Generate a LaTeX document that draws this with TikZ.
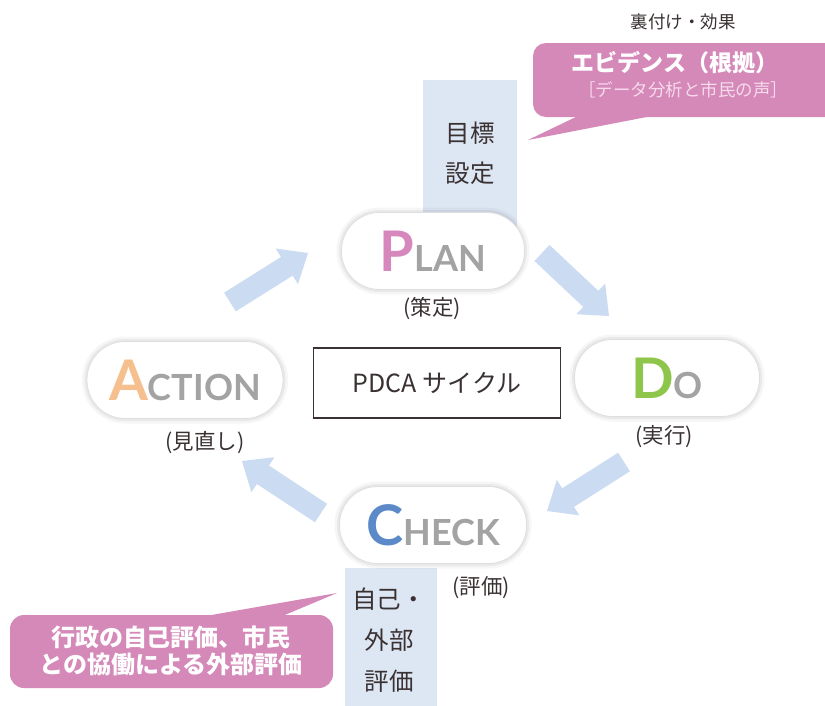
\documentclass[tikz,border=0pt]{standalone}
\usepackage{fontspec}
\setmainfont{Noto Sans CJK JP}
\newfontfamily\latfont{Lato}
\usetikzlibrary{calc}

\definecolor{calloutpink}{RGB}{213,137,185}
\definecolor{ppink}{RGB}{214,135,188}
\definecolor{aorange}{RGB}{245,192,142}
\definecolor{dgreen}{RGB}{141,198,75}
\definecolor{cblue}{RGB}{92,138,200}
\definecolor{lgray}{RGB}{163,163,163}
\definecolor{dtext}{RGB}{58,50,50}
\definecolor{arrowblue}{RGB}{202,219,242}
\definecolor{rectblue}{RGB}{221,230,243}
\definecolor{softpink}{RGB}{246,218,236}

\newcommand\pdcaword[3]{{\latfont\bfseries\fontsize{56}{56}\selectfont\textcolor{#1}{#2}\fontsize{36}{36}\selectfont\textcolor{lgray}{#3}}}

\begin{document}
\begin{tikzpicture}[x=1pt,y=-1pt,
  pill/.style={rectangle, rounded corners=38pt, fill=white, draw=black!13, line width=0.8pt,
    minimum width=#1, minimum height=77pt, inner sep=0pt,
    preaction={draw=black, draw opacity=0.035, line width=10pt},
    preaction={draw=black, draw opacity=0.05, line width=5pt}},
  sublabel/.style={text=dtext, font=\fontsize{21.5}{21.5}\selectfont, inner sep=0pt},
  bluetext/.style={text=dtext, align=center, inner sep=0pt},
  whitebold/.style={text=white, font=\bfseries, align=center, inner sep=0pt}]
\useasboundingbox (0,0) rectangle (825,705);
\clip (0,0) rectangle (825,705);
\fill[white] (0,0) rectangle (825,705);

% light blue bands
\fill[rectblue] (423,80) rectangle (517,240);
\fill[rectblue] (345,568) rectangle (437,710);

% top-right callout
\coordinate (evtip) at (528,140);
\fill[calloutpink, rounded corners=13pt] (533,43) rectangle (845,117);
\fill[calloutpink] (580,115) -- (evtip) -- (657,115) -- cycle;
\node[whitebold, font=\bfseries\fontsize{23}{23}\selectfont] (ev) at (675,63) {エビデンス（根拠）};
\node[inner sep=0pt, text=softpink, font=\fontsize{17.5}{17.5}\selectfont] (evsub) at (683,90) {［データ分析と市民の声］};
\node[inner sep=0pt, text=dtext, font=\fontsize{17.5}{17.5}\selectfont] (ura) at (683,22) {裏付け・効果};

% bottom-left callout
\coordinate (evaltip) at (337,593);
\fill[calloutpink, rounded corners=14pt] (10,615) rectangle (333,688);
\fill[calloutpink] (200,617) -- (evaltip) -- (280,617) -- cycle;
\node[whitebold, font=\bfseries\fontsize{24}{27}\selectfont] (evaltext) at (171,651) {行政の自己評価、市民\\との協働による外部評価};

% texts in the blue bands
\node[bluetext, font=\fontsize{24.5}{40}\selectfont] (goal) at (470,153) {目標\\設定};
\node[bluetext, font=\fontsize{24.5}{41}\selectfont] (selfeval) at (389,640) {自己・\\外部\\評価};

% centre box
\node[draw=dtext, line width=1.3pt, minimum width=247pt, minimum height=70pt, inner sep=0pt,
      text=dtext, font=\fontsize{25}{25}\selectfont] (cycle) at (437,383) {PDCA サイクル};

% block arrows
\coordinate (a1s) at (230,302); \coordinate (a1e) at (308,253);
\coordinate (a2s) at (542,253); \coordinate (a2e) at (609,316);
\coordinate (a3s) at (624,462); \coordinate (a3e) at (547,511);
\coordinate (a4s) at (321,513); \coordinate (a4e) at (242,461);
\foreach \i in {1,2,3,4}{
  \coordinate (h\i) at ($(a\i e)!25pt!(a\i s)$);
  \fill[arrowblue] ($(a\i s)!11pt!90:(a\i e)$) -- ($(h\i)!11pt!90:(a\i e)$) -- ($(h\i)!21pt!90:(a\i e)$)
     -- (a\i e) -- ($(h\i)!21pt!-90:(a\i e)$) -- ($(h\i)!11pt!-90:(a\i e)$) -- ($(a\i s)!11pt!-90:(a\i e)$) -- cycle;
}

% pills
\node[pill=183pt] (plan) at (433,251) {\pdcaword{ppink}{P}{LAN}};
\node[pill=196pt] (action) at (185,380) {\pdcaword{aorange}{A}{CTION}};
\node[pill=185pt] (do) at (667,378) {\pdcaword{dgreen}{D}{O}};
\node[pill=187pt] (check) at (433,525) {\pdcaword{cblue}{C}{HECK}};

% sub labels
\node[sublabel] (plansub) at (432,309) {(策定)};
\node[sublabel] (actionsub) at (205,443) {(見直し)};
\node[sublabel] (dosub) at (664,437) {(実行)};
\node[sublabel] (checksub) at (481,588) {(評価)};
\end{tikzpicture}
\end{document}
